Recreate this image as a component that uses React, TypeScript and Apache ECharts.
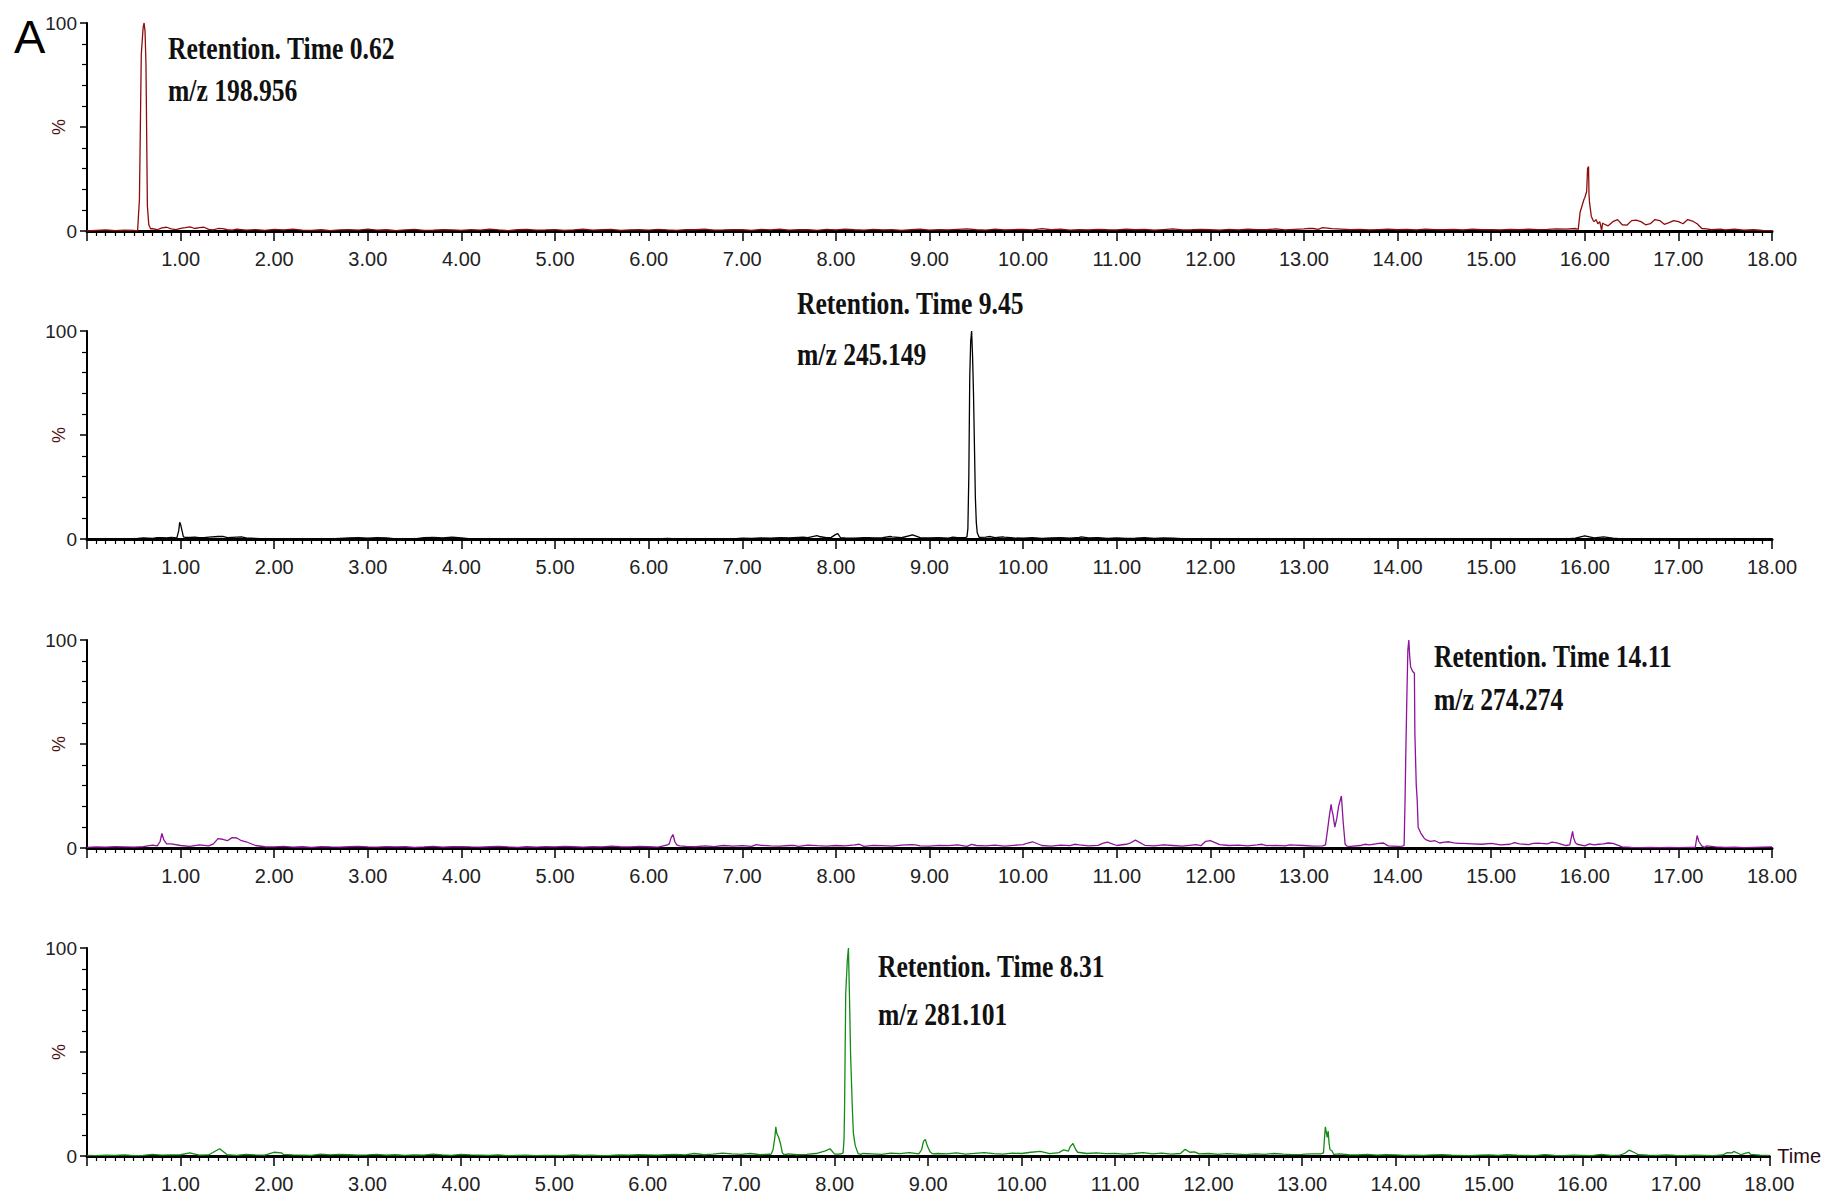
import React, { useEffect, useRef } from "react";
import * as echarts from "echarts";

// ---------- DATA ----------
const X_MIN = 0;
const X_MAX = 18;
const X_INTERVAL = 1;
const SAMPLE_STEP = 0.1; // background trace sampled every 0.1 min (t = 0.0 .. 18.0)

const traceColors = ["#8e0c0c", "#000000", "#8c1499", "#158a15"];

const annotationLines = [
  ["Retention. Time 0.62", "m/z 198.956"],
  ["Retention. Time 9.45", "m/z 245.149"],
  ["Retention. Time 14.11", "m/z 274.274"],
  ["Retention. Time 8.31", "m/z 281.101"],
];

// background traces (% intensity), one value per 0.1 min
const redBackground = [
  0, 0.3, 0.5, 0.2, 0.4, 0.3, 0, 1.2, 1.5, 1.0,
  1.3, 2.0, 1.6, 0.8, 1.2, 0.6, 0.9, 0.4, 0.7, 0.3,
  0.8, 0.5, 0.9, 0.4, 0.3, 0.6, 0.2, 0.5, 0.7, 0.4,
  0.9, 0.4, 0.6, 0.2, 0.5, 0.8, 0.3, 0.4, 0.6, 0.5,
  0.3, 0.7, 0.4, 0.9, 0.5, 0.2, 0.6, 0.8, 0.4, 0.5,
  0.7, 0.3, 0.5, 0.9, 0.4, 0.6, 0.8, 0.3, 0.5, 0.6,
  0.4, 0.8, 0.5, 0.3, 0.7, 0.6, 0.9, 0.4, 0.5, 0.7,
  0.6, 0.3, 0.8, 0.5, 0.9, 0.4, 0.6, 0.7, 0.3, 0.8,
  0.5, 0.9, 0.6, 0.4, 0.8, 0.5, 0.7, 0.3, 0.6, 0.9,
  0.4, 0.7, 0.5, 0.8, 1.0, 0.6, 0.4, 0.9, 0.5, 0.7,
  0.8, 0.5, 1.1, 0.6, 0.9, 0.4, 0.7, 0.5, 0.8, 0.6,
  0.5, 0.9, 0.6, 0.8, 0.4, 0.7, 1.0, 0.5, 0.6, 0.8,
  0.6, 0.4, 0.8, 0.5, 0.9, 0.7, 0.6, 1.0, 0.5, 0.8,
  1.0, 1.2, 1.6, 1.1, 0.9, 0.6, 0.8, 0.5, 0.7, 0.9,
  0.6, 0.8, 0.5, 0.9, 0.7, 0.6, 0.8, 0.5, 0.9, 0.6,
  0.7, 0.5, 0.8, 0.6, 0.9, 0.7, 0.8, 1.0, 0.9, 1.2,
  16, 4.5, 3.5, 4.5, 3, 5, 4.5, 3.5, 5, 4,
  4.5, 5.5, 3.5, 1.0, 0.8, 0.5, 0.9, 0.4, 0.6, 0.3,
  0.2,
];

const blackBackground = [
  0, 0, 0, 0, 0, 0, 0.5, 0.3, 0.6, 0.8,
  7, 0.8, 0.6, 0.9, 1.2, 0.7, 0.9, 0.5, 0.3, 0,
  0, 0, 0, 0, 0, 0, 0, 0.3, 0.5, 0.6,
  0.4, 0.7, 0.5, 0, 0, 0, 0.6, 0.8, 0.5, 0.9,
  0.5, 0, 0, 0, 0, 0, 0, 0, 0, 0,
  0, 0, 0, 0, 0, 0, 0, 0, 0, 0,
  0, 0, 0.3, 0, 0, 0, 0, 0, 0, 0,
  0.4, 0.3, 0.5, 0.4, 0.6, 0.5, 0.8, 0.7, 1.6, 0.6,
  2.2, 0.5, 0.4, 0.6, 0.5, 0.7, 1.0, 0.6, 1.8, 0.7,
  0.5, 0.6, 0.4, 0.7, 1, 8, 0.9, 0.6, 0.9, 0.5,
  0.4, 0.6, 0.3, 0.5, 0.6, 0.4, 0.8, 0.5, 0.6, 0.3,
  0.5, 0.3, 0.4, 0.6, 0.3, 0.5, 0.4, 0.2, 0, 0,
  0, 0, 0, 0, 0, 0, 0, 0, 0, 0,
  0, 0, 0, 0, 0, 0, 0, 0, 0, 0,
  0, 0, 0, 0, 0, 0, 0, 0, 0, 0,
  0, 0, 0, 0, 0, 0, 0, 0, 0, 0.4,
  1.5, 0.5, 1.0, 0.4, 0, 0, 0, 0, 0, 0,
  0, 0, 0, 0, 0, 0, 0, 0, 0, 0,
  0,
];

const purpleBackground = [
  0.3, 0.5, 0.4, 0.6, 0.5, 0.4, 0.7, 1.4, 7, 2,
  1.2, 0.8, 1.5, 1.0, 4.5, 3.5, 4.8, 3, 1.2, 0.6,
  0.5, 0.8, 0.4, 0.6, 0.3, 0.7, 0.5, 0.4, 0.6, 0.8,
  0.5, 0.4, 0.7, 0.5, 0.6, 0.3, 0.5, 0.8, 0.4, 0.6,
  0.7, 0.5, 0.4, 0.6, 0.8, 0.5, 0.3, 0.6, 0.4, 0.7,
  0.5, 0.8, 0.6, 0.4, 0.7, 0.5, 0.9, 0.6, 0.5, 0.8,
  0.6, 0.4, 1.5, 1.5, 0.8, 0.6, 1.0, 0.7, 1.2, 0.9,
  1.1, 0.8, 1.3, 1.0, 0.9, 1.2, 0.8, 1.4, 1.1, 0.9,
  1.2, 1.0, 1.5, 0.8, 1.3, 1.1, 0.9, 1.4, 1.6, 1.0,
  0.9, 1.3, 1.1, 1.5, 0.8, 1.2, 1.0, 1.4, 0.9, 1.3,
  1.6, 3, 1.2, 0.9, 1.4, 1.1, 1.5, 1.0, 1.3, 2.8,
  1.2, 1.8, 3.8, 1.3, 1.0, 1.5, 1.2, 0.9, 1.4, 1.1,
  3.5, 1.6, 1.2, 1.4, 1.0, 1.5, 1.1, 1.3, 1.0, 1.4,
  1.2, 0.9, 1.0, 18, 25, 0.8, 1.2, 1.5, 2.2, 1.0,
  0.8, 74, 30, 4, 3.5, 2.8, 2.5, 2.2, 2.0, 1.8,
  2.2, 1.5, 1.8, 2.0, 1.6, 2.3, 2.0, 2.5, 1.2, 2.5,
  1.0, 1.5, 2.0, 2.2, 0.5, 0.3, 0.2, 0.3, 0.2, 0.3,
  0.2, 0.3, 6, 1.0, 0.5, 0.3, 0.4, 0.2, 0.3, 0.4,
  0.5,
];

const greenBackground = [
  0.3, 0.2, 0.4, 0.3, 0.5, 0.2, 0.3, 0.8, 0.4, 0.5,
  0.6, 1.5, 0.4, 0.5, 3, 0.6, 0.3, 0.8, 0.5, 0.4,
  1.8, 0.8, 0.5, 0.4, 0.3, 0.9, 0.5, 0.8, 0.6, 0.4,
  0.5, 0.8, 0.4, 0.6, 0.3, 0.5, 0.4, 0.9, 0.5, 0.3,
  0.8, 0.5, 0.4, 0.3, 0.5, 0.2, 0.3, 0.4, 0.2, 0.3,
  0.3, 0.2, 0.5, 0.3, 0.4, 0.2, 0.3, 0.5, 0.4, 0.6,
  0.5, 0.4, 0.6, 0.8, 0.5, 1.2, 0.6, 0.9, 1.4, 1.0,
  0.8, 1.2, 0.6, 0.9, 9, 1.0, 0.6, 0.8, 1.2, 1.6,
  0.9, 8, 11, 1.2, 1.0, 0.8, 1.4, 1.1, 1.6, 1.3,
  4, 1.2, 1.0, 1.5, 0.9, 1.3, 1.6, 1.1, 0.9, 1.4,
  1.2, 1.8, 2.2, 1.1, 1.6, 2.4, 1.8, 1.2, 1.5, 1.1,
  1.3, 0.9, 1.2, 1.6, 1.0, 1.4, 0.9, 1.2, 1.8, 1.0,
  1.2, 0.8, 1.1, 0.9, 0.7, 1.0, 0.8, 1.2, 0.9, 0.7,
  0.8, 1.0, 1.0, 3, 1.0, 0.6, 0.5, 0.8, 0.4, 0.6,
  0.5, 0.3, 0.4, 0.3, 0.5, 0.6, 0.4, 0.3, 0.2, 0.4,
  0.5, 0.3, 0.6, 0.4, 0.3, 0.2, 0.7, 0.3, 0.2, 0.4,
  0.3, 0.2, 0.8, 0.3, 0.4, 2.8, 0.6, 0.4, 0.3, 0.5,
  0.3, 0.2, 0.4, 0.3, 0.2, 0.5, 1.5, 0.6, 0.8, 0.4,
  0.3,
];

// detailed points [time, %] (peaks and extra noise); they override background at equal times
const redDetail = [
  [0.54, 0], [0.56, 15], [0.58, 85], [0.6, 98], [0.61, 100], [0.62, 96], [0.63, 80], [0.645, 12], [0.66, 3], [0.68, 1],
  [0.75, 0.6], [0.85, 1.8], [0.95, 0.7], [1.05, 1.6], [1.15, 1.2], [1.25, 1.8], [1.35, 0.5], [1.45, 1.1], [1.55, 0.4],
  [13.05, 1.3], [13.15, 0.8], [13.25, 1.4],
  [15.93, 0.8], [15.95, 9], [15.97, 12], [15.99, 15], [16.0, 16], [16.02, 19], [16.03, 30], [16.04, 31], [16.045, 18],
  [16.05, 14], [16.07, 7], [16.09, 5], [16.1, 4.5], [16.12, 5.5], [16.14, 3.5], [16.16, 4.5], [16.17, 2.5], [16.18, 0], [16.19, 3.8],
  [16.25, 2.5], [16.35, 5.5], [16.45, 2.8], [16.55, 5.2], [16.65, 3], [16.75, 5.5], [16.85, 3.2], [16.95, 5],
  [17.05, 3.5], [17.15, 4.8], [17.25, 1.2], [17.35, 0.6], [17.45, 0.9],
];

const blackDetail = [
  [0.65, 0.4], [0.75, 0.7], [0.85, 0.5],
  [0.96, 0.5], [0.98, 4], [0.99, 8], [1.0, 7], [1.01, 5], [1.03, 1], [1.05, 0.8],
  [1.15, 0.9], [1.25, 0.6], [1.45, 1.3], [1.55, 0.8], [1.65, 1.0],
  [7.65, 0.9], [7.82, 1.2], [7.95, 0.8], [8.02, 2.6], [8.05, 0.6], [8.35, 0.7], [8.58, 1.2], [8.82, 2.0], [9.25, 0.9],
  [9.38, 0.6], [9.4, 1], [9.41, 5], [9.42, 30], [9.43, 78], [9.44, 95], [9.45, 100], [9.46, 88], [9.47, 70],
  [9.48, 45], [9.49, 20], [9.5, 8], [9.51, 3], [9.53, 0.8],
  [9.65, 1.2], [9.78, 1.0], [10.62, 1.0],
];

const purpleDetail = [
  [0.75, 1], [0.78, 3], [0.8, 7], [0.82, 4], [0.85, 2],
  [1.35, 2], [1.45, 4.2], [1.55, 5], [1.65, 3.5],
  [6.2, 1.5], [6.22, 2], [6.24, 5], [6.26, 6.5], [6.28, 3], [6.3, 1.5], [6.33, 1],
  [7.15, 1.6], [7.55, 1.3], [8.25, 1.8], [8.85, 1.5], [9.45, 1.7], [10.05, 2.4], [10.55, 1.8], [10.85, 2.2],
  [11.15, 2.5], [11.85, 1.6], [11.95, 3.2], [12.55, 1.8], [12.85, 1.5],
  [13.2, 1.0], [13.23, 1.5], [13.25, 8], [13.27, 15], [13.29, 21], [13.3, 18], [13.31, 16], [13.33, 10],
  [13.35, 14], [13.37, 20], [13.4, 25], [13.42, 12], [13.44, 1.8], [13.46, 0.9],
  [13.65, 1.8], [13.85, 2.4],
  [14.05, 0.9], [14.07, 1.2], [14.08, 23], [14.09, 50], [14.1, 74], [14.11, 95], [14.12, 100], [14.13, 92],
  [14.14, 87], [14.16, 85], [14.18, 84], [14.185, 55], [14.2, 30], [14.21, 23], [14.22, 10], [14.25, 7], [14.28, 5], [14.3, 4],
  [14.35, 3.2], [14.45, 2.4], [14.55, 3], [14.65, 2.2], [15.25, 2.6], [15.45, 2.2], [15.65, 2.8],
  [15.84, 1.5], [15.86, 6], [15.87, 8], [15.88, 5], [15.9, 2.5], [15.92, 1.8],
  [16.05, 2], [16.15, 1.8], [16.25, 2.4],
  [17.18, 0.3], [17.2, 6], [17.22, 3], [17.25, 1], [17.28, 0.3],
];

const greenDetail = [
  [1.38, 2.5], [1.42, 3.5], [2.08, 1.5],
  [7.32, 0.8], [7.34, 3], [7.36, 9], [7.37, 14], [7.38, 11], [7.39, 10], [7.4, 9], [7.42, 6], [7.44, 1.5], [7.46, 0.6],
  [7.9, 2.5], [7.95, 3.5],
  [8.05, 0.9], [8.08, 1.2], [8.09, 1.5], [8.1, 8], [8.106, 24], [8.118, 78], [8.135, 94], [8.147, 100], [8.159, 75],
  [8.17, 49], [8.188, 24], [8.2, 11], [8.22, 5], [8.25, 1.2], [8.28, 0.8],
  [8.9, 1], [8.93, 3], [8.95, 7], [8.97, 8], [8.99, 5], [9.0, 4], [9.02, 2], [9.05, 1],
  [10.45, 3], [10.52, 4.5], [10.55, 6], [10.58, 3], [11.75, 3.2], [11.85, 2],
  [13.2, 1.0], [13.23, 1.5], [13.24, 8], [13.25, 14], [13.27, 9], [13.28, 12], [13.29, 6], [13.3, 3], [13.32, 2.5], [13.34, 0.8],
  [16.45, 1.2], [16.55, 1.8], [17.55, 1.6], [17.62, 2.2], [17.72, 1.0], [17.78, 1.8],
];

const backgrounds = [redBackground, blackBackground, purpleBackground, greenBackground];
const details = [redDetail, blackDetail, purpleDetail, greenDetail];

// ---------- LAYOUT ----------
const W = 1822;
const H = 1194;
const GRID_LEFT = 87;
const GRID_WIDTH = 1685;
const GRID_HEIGHT = 208;
const GRID_TOPS = [23, 331, 640, 948];
const ANNOT_POS = [
  { x: 168, y1: 48, y2: 90 },
  { x: 797, y1: 303, y2: 354 },
  { x: 1434, y1: 656, y2: 699 },
  { x: 878, y1: 966, y2: 1014 },
];

function buildTrace(bg: number[], det: number[][]) {
  const map = new Map<string, number[]>();
  bg.forEach((v, i) => {
    const t = Number((i * SAMPLE_STEP).toFixed(3));
    map.set(t.toFixed(3), [t, v]);
  });
  det.forEach(([t, v]) => map.set(t.toFixed(3), [t, v]));
  return Array.from(map.values()).sort((a, b) => a[0] - b[0]);
}

const LABEL_FONT = '"Liberation Sans Narrow", "Liberation Sans", Arial, sans-serif';

export default function App() {
  const ref = useRef<HTMLDivElement>(null);

  useEffect(() => {
    document.body.style.margin = "0";
    document.body.style.overflow = "hidden";
    if (!ref.current) return;
    const chart = echarts.init(ref.current, null, { renderer: "svg" });

    const grid = GRID_TOPS.map((top) => ({ left: GRID_LEFT, top, width: GRID_WIDTH, height: GRID_HEIGHT }));

    const xAxis = GRID_TOPS.map((_, i) => ({
      type: "value",
      gridIndex: i,
      min: X_MIN,
      max: X_MAX,
      interval: X_INTERVAL,
      axisLine: { onZero: false, lineStyle: { color: "#000", width: 3 } },
      axisTick: { show: true, length: 10, lineStyle: { color: "#000", width: 1.5 } },
      minorTick: { show: true, splitNumber: 10, length: 5, lineStyle: { color: "#000", width: 1.2 } },
      splitLine: { show: false },
      minorSplitLine: { show: false },
      axisLabel: {
        formatter: (v: number) => (v === 0 ? "" : v.toFixed(2)),
        margin: 18,
        fontSize: 20,
        fontFamily: LABEL_FONT,
        color: "#222",
        showMinLabel: true,
        showMaxLabel: true,
      },
      name: i === 3 ? "Time" : "",
      nameLocation: "end",
      nameGap: 8,
      nameTextStyle: { fontSize: 20, fontFamily: LABEL_FONT, color: "#2a0a14" },
    }));

    const yAxis = GRID_TOPS.map((_, i) => ({
      type: "value",
      gridIndex: i,
      min: 0,
      max: 100,
      interval: 50,
      axisLine: { show: true, lineStyle: { color: "#000", width: 2 } },
      axisTick: { show: true, length: 7, lineStyle: { color: "#000", width: 1.5 } },
      minorTick: { show: true, splitNumber: 5, length: 5, lineStyle: { color: "#000", width: 1.2 } },
      splitLine: { show: false },
      minorSplitLine: { show: false },
      axisLabel: {
        formatter: (v: number) => (v === 50 ? "" : String(v)),
        margin: 10,
        fontSize: 19,
        fontFamily: '"Liberation Sans", Arial, sans-serif',
        color: "#222",
      },
      name: "%",
      nameLocation: "middle",
      nameGap: 19,
      nameRotate: 90,
      nameMoveOverlap: false,
      nameTextStyle: { fontSize: 18, fontFamily: '"Liberation Sans", Arial, sans-serif', color: "#4b1515" },
    }));

    const series = backgrounds.map((bg, i) => ({
      type: "line",
      xAxisIndex: i,
      yAxisIndex: i,
      data: buildTrace(bg, details[i]),
      showSymbol: false,
      symbol: "none",
      silent: true,
      z: 3,
      lineStyle: { color: traceColors[i], width: 1.3 },
      itemStyle: { color: traceColors[i] },
    }));

    const graphic: any[] = [
      {
        type: "text",
        x: 14,
        y: 13,
        style: { text: "A", fontSize: 47, fontFamily: '"Liberation Sans", Arial, sans-serif', fill: "#000", align: "left", verticalAlign: "top" },
      },
    ];
    annotationLines.forEach((lines, i) => {
      const p = ANNOT_POS[i];
      [p.y1, p.y2].forEach((y, k) => {
        graphic.push({
          type: "text",
          x: p.x,
          y,
          scaleX: 0.8,
          style: {
            text: lines[k],
            fontSize: 32,
            fontWeight: "bold",
            fontFamily: '"Liberation Serif", "Times New Roman", serif',
            fill: "#111",
            align: "left",
            verticalAlign: "middle",
          },
        });
      });
    });

    chart.setOption({
      animation: false,
      backgroundColor: "#ffffff",
      grid,
      xAxis,
      yAxis,
      series,
      graphic,
    });

    return () => chart.dispose();
  }, []);

  return <div ref={ref} style={{ width: W, height: H }} />;
}
